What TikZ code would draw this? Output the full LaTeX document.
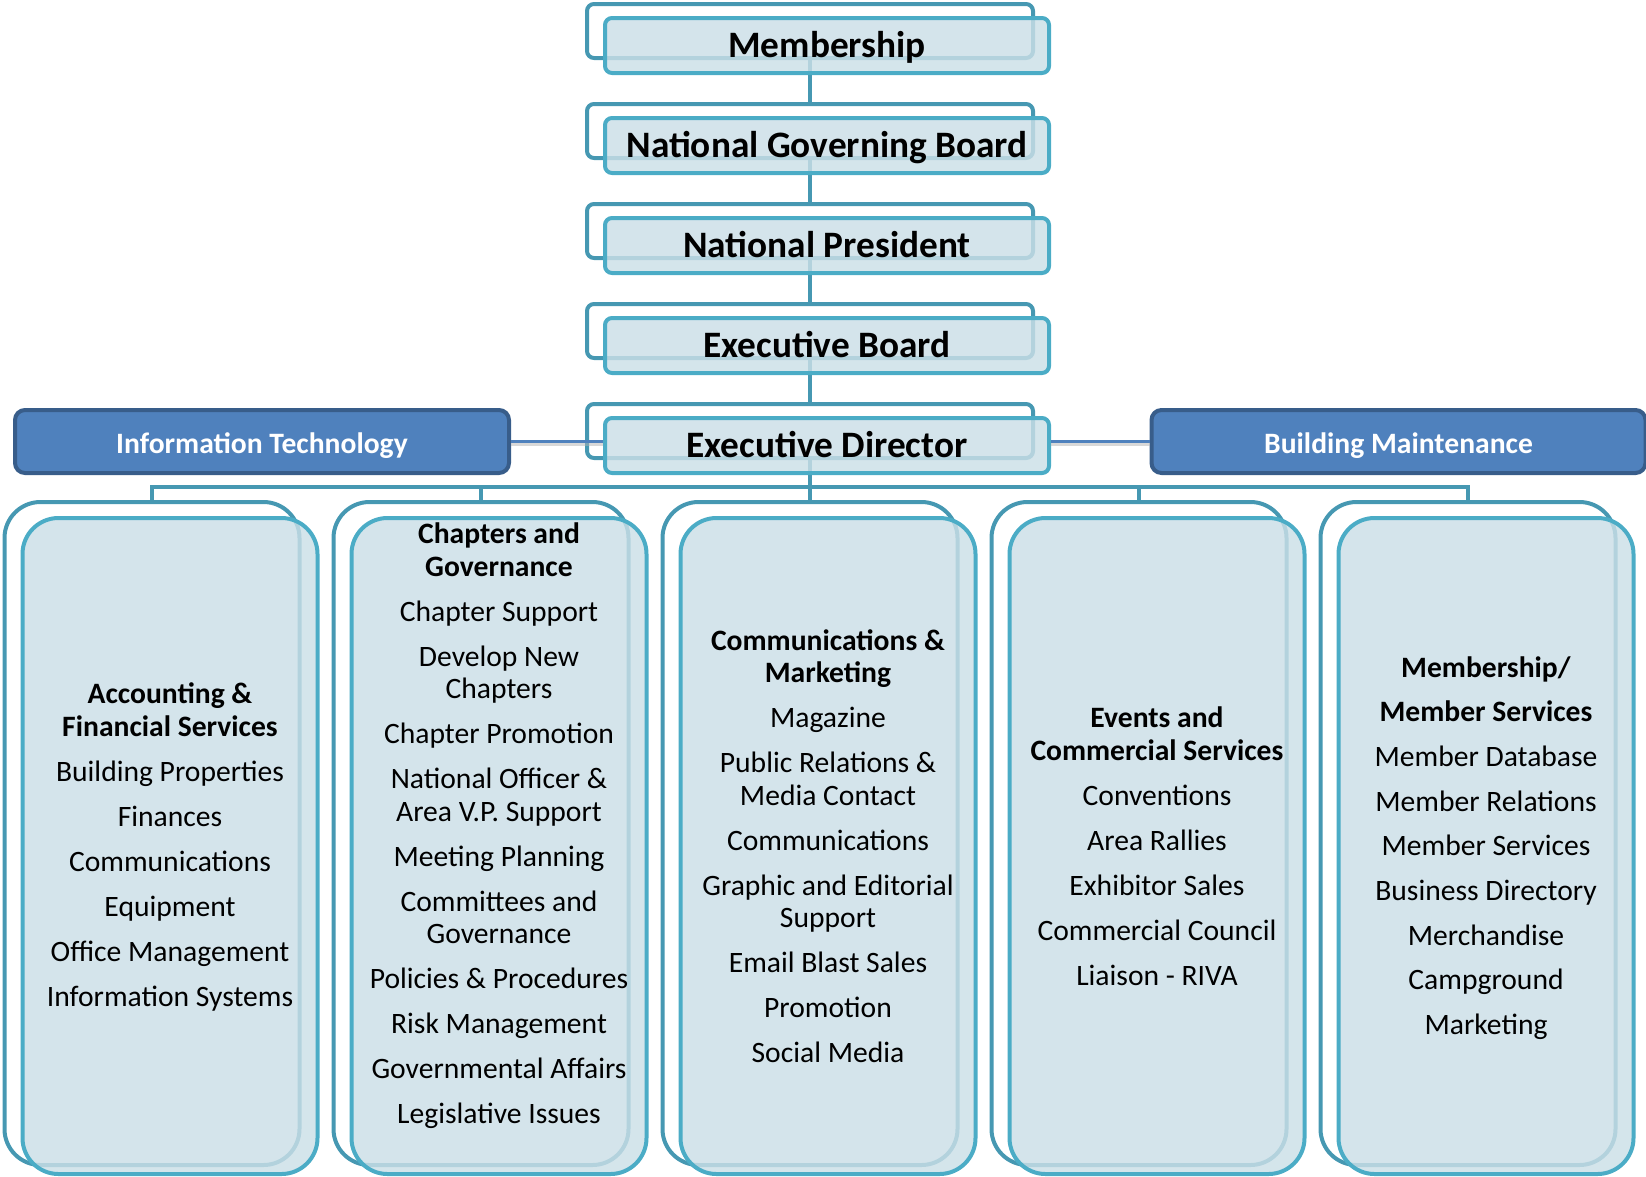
\documentclass[tikz,border=0pt]{standalone}
\usepackage{fontspec}
\setmainfont{Carlito}
\usetikzlibrary{backgrounds}
\definecolor{backc}{RGB}{70,152,178}
\definecolor{frontc}{RGB}{75,172,198}
\definecolor{fillc}{RGB}{203,223,231}
\definecolor{itfill}{RGB}{79,129,189}
\definecolor{itdraw}{RGB}{56,93,138}
\definecolor{linkc}{RGB}{79,129,189}
\newcommand{\lowtext}[2]{\raisebox{-#1}[0pt][0pt]{#2}}
\begin{document}
\begin{tikzpicture}[x=1pt,y=-1pt,
  backtop/.style={draw=backc, line width=4pt, fill=white, rounded corners=7pt, minimum width=446pt, minimum height=54pt, inner sep=0pt},
  fronttop/.style={draw=frontc, line width=4pt, fill=fillc, fill opacity=0.82, text opacity=1, rounded corners=7pt, minimum width=444pt, minimum height=55pt, inner sep=0pt, font=\fontsize{37.3}{40}\selectfont\bfseries},
  sidebox/.style={draw=itdraw, line width=4pt, fill=itfill, rounded corners=10pt, minimum width=494pt, minimum height=63pt, inner sep=0pt, text=white, font=\fontsize{29.6}{32}\selectfont\bfseries},
  backbig/.style={draw=backc, line width=4pt, fill=white, rounded corners=36pt, minimum width=295pt, minimum height=663pt, inner sep=0pt},
  frontbig/.style={draw=frontc, line width=4pt, fill=fillc, fill opacity=0.82, rounded corners=36pt, minimum width=295pt, minimum height=656pt, inner sep=0pt},
  bodytext/.style={align=center, inner sep=0pt, font=\fontsize{29.6}{32.5}\selectfont},
  conn/.style={draw=backc, line width=4pt},
  sidelink/.style={draw=linkc, line width=3pt}
]
\useasboundingbox (0,0) rectangle (1646,1176);

% back boxes of the chain
\node[backtop] (mbB)  at (810,31)  {};
\node[backtop] (ngbB) at (810,131) {};
\node[backtop] (npB)  at (810,231) {};
\node[backtop] (ebB)  at (810,331) {};
\node[backtop] (edB)  at (810,431) {};

% back boxes of the departments
\node[backbig] (d1B) at (152,833.5) {};
\node[backbig] (d2B) at (481,833.5) {};
\node[backbig] (d3B) at (810,833.5) {};
\node[backbig] (d4B) at (1139,833.5) {};
\node[backbig] (d5B) at (1468,833.5) {};

% side boxes
\node[sidebox] (it) at (262,441.5) {\lowtext{11.5pt}{Information Technology}};
\node[sidebox] (bm) at (1398.5,441.5) {\lowtext{11.5pt}{Building Maintenance}};

% front boxes of the chain
\node[fronttop] (mb)  at (827,45.5)  {\lowtext{12pt}{Membership}};
\node[fronttop] (ngb) at (827,145.5) {\lowtext{12pt}{National Governing Board}};
\node[fronttop] (np)  at (827,245.5) {\lowtext{12pt}{National President}};
\node[fronttop] (eb)  at (827,345.5) {\lowtext{12pt}{Executive Board}};
\node[fronttop] (ed)  at (827,445.5) {\lowtext{12pt}{Executive Director}};

% side links
\draw[gray!60, line width=3pt, opacity=0.5, transform canvas={yshift=-3pt}] (it.east) -- (it.east -| ed.west);
\draw[gray!60, line width=3pt, opacity=0.5, transform canvas={yshift=-3pt}] (bm.west) -- (bm.west -| ed.east);
\draw[sidelink] (it.east) -- (it.east -| ed.west);
\draw[sidelink] (bm.west) -- (bm.west -| ed.east);

% front boxes of the departments
\node[frontbig] (d1) at (170,846) {};
\node[frontbig] (d2) at (499,846) {};
\node[frontbig] (d3) at (828,846) {};
\node[frontbig] (d4) at (1157,846) {};
\node[frontbig] (d5) at (1486,846) {};

% texts
\node[bodytext] (t1) at (170,847) {\textbf{Accounting \&}\\\textbf{Financial Services}\\[12.5pt]Building Properties\\[12.5pt]Finances\\[12.5pt]Communications\\[12.5pt]Equipment\\[12.5pt]Office Management\\[12.5pt]Information Systems};
\node[bodytext] (t2) at (499,826) {\textbf{Chapters and}\\\textbf{Governance}\\[12.5pt]Chapter Support\\[12.5pt]Develop New\\Chapters\\[12.5pt]Chapter Promotion\\[12.5pt]National Officer \&\\Area V.P. Support\\[12.5pt]Meeting Planning\\[12.5pt]Committees and\\Governance\\[12.5pt]Policies \& Procedures\\[12.5pt]Risk Management\\[12.5pt]Governmental Affairs\\[12.5pt]Legislative Issues};
\node[bodytext] (t3) at (828,846) {\textbf{Communications \&}\\\textbf{Marketing}\\[12.5pt]Magazine\\[12.5pt]Public Relations \&\\Media Contact\\[12.5pt]Communications\\[12.5pt]Graphic and Editorial\\Support\\[12.5pt]Email Blast Sales\\[12.5pt]Promotion\\[12.5pt]Social Media};
\node[bodytext] (t4) at (1157,846) {\textbf{Events and}\\\textbf{Commercial Services}\\[12.5pt]Conventions\\[12.5pt]Area Rallies\\[12.5pt]Exhibitor Sales\\[12.5pt]Commercial Council\\[12.5pt]Liaison - RIVA};
\node[bodytext] (t5) at (1486,848) {\textbf{Membership/}\\[12.2pt]\textbf{Member Services}\\[12.2pt]Member Database\\[12.2pt]Member Relations\\[12.2pt]Member Services\\[12.2pt]Business Directory\\[12.2pt]Merchandise\\[12.2pt]Campground\\[12.2pt]Marketing};

% connectors under everything
\begin{pgfonlayer}{background}
\coordinate (bus) at (810,487);
\draw[conn] (mbB.center) -- (ngbB.center);
\draw[conn] (ngbB.center) -- (npB.center);
\draw[conn] (npB.center) -- (ebB.center);
\draw[conn] (ebB.center) -- (edB.center);
\draw[conn] (edB.center) -- (bus);
\draw[conn] (d1B.north) |- (bus);
\draw[conn] (d2B.north) |- (bus);
\draw[conn] (d3B.north) -- (bus);
\draw[conn] (d4B.north) |- (bus);
\draw[conn] (d5B.north) |- (bus);
\end{pgfonlayer}
\end{tikzpicture}
\end{document}
